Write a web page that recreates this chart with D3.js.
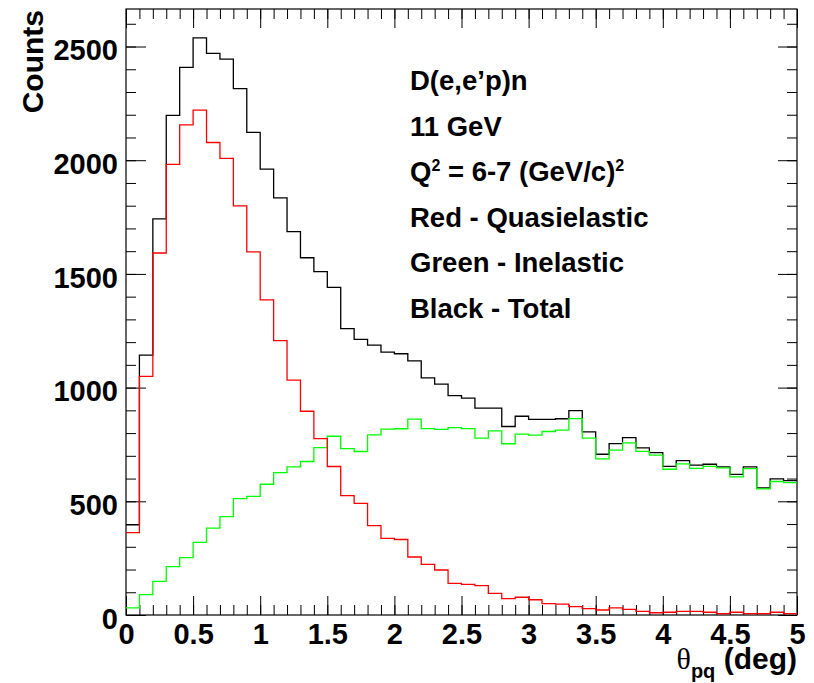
<!DOCTYPE html>
<html>
<head>
<meta charset="utf-8">
<script src="https://cdn.jsdelivr.net/npm/d3@7"></script>
<style>
  body { margin: 0; background: #fff; }
  svg { font-family: "Liberation Sans", Arial, sans-serif; font-weight: bold; }
</style>
</head>
<body>
<svg id="chart" width="814" height="683"></svg>
<script>
// theta_pq histograms, 50 bins of 0.1 deg
const binWidth = 0.1;
const xMajorTicks = [0, 0.5, 1, 1.5, 2, 2.5, 3, 3.5, 4, 4.5, 5];
const yMajorTicks = [0, 500, 1000, 1500, 2000, 2500];

const total = [397, 1143, 1742, 2197, 2408, 2538, 2470, 2445, 2315, 2122,
               1961, 1834, 1686, 1571, 1510, 1441, 1259, 1212, 1187, 1156,
               1149, 1118, 1043, 1015, 965, 954, 910, 910, 829, 874,
               860, 860, 863, 899, 805, 707, 754, 780, 735, 714,
               654, 679, 659, 663, 651, 618, 651, 559, 599, 591];
const quasielastic = [362, 1049, 1592, 1982, 2155, 2220, 2078, 2008, 1799, 1597,
                      1386, 1207, 1033, 896, 776, 653, 525, 491, 393, 337,
                      332, 255, 223, 198, 139, 135, 129, 95, 72, 78,
                      67, 50, 48, 37, 28, 22, 31, 25, 16, 10,
                      12, 16, 16, 12, 6, 12, 6, 6, 12, 6];
const inelastic = [31, 90, 148, 213, 252, 319, 382, 433, 512, 522,
                   575, 626, 651, 675, 736, 786, 732, 719, 792, 817,
                   819, 861, 820, 816, 824, 820, 778, 810, 753, 795,
                   791, 807, 813, 864, 778, 687, 725, 757, 720, 703,
                   641, 665, 645, 654, 647, 607, 644, 555, 587, 582];

const legendLines = ["D(e,e\u2019p)n", "11 GeV", "Q2", "Red - Quasielastic", "Green - Inelastic", "Black - Total"];

const margin = {top: 9, right: 17, bottom: 68, left: 126};
const fullWidth = 814, fullHeight = 683;
const width = fullWidth - margin.left - margin.right;
const height = fullHeight - margin.top - margin.bottom;

const svg = d3.select("#chart");
const g = svg.append("g").attr("transform", `translate(${margin.left},${margin.top})`);

const x = d3.scaleLinear().domain([0, 5]).range([0, width]);
const y = d3.scaleLinear().domain([0, 2665]).range([height, 0]);

const minorX = d3.range(0, 51).map(i => i * binWidth);
const minorY = d3.range(0, 27).map(i => i * 100);

function styleAxis(sel) {
    sel.select(".domain").remove();
    sel.selectAll("line").attr("stroke", "#000").attr("stroke-width", 1);
}

// bottom axis
g.append("g").attr("transform", `translate(0,${height})`)
    .call(d3.axisBottom(x).tickValues(minorX).tickSize(-10).tickFormat(""))
    .call(styleAxis);
g.append("g").attr("transform", `translate(0,${height})`)
    .call(d3.axisBottom(x).tickValues(xMajorTicks).tickSize(-19).tickPadding(8).tickFormat(d3.format("")))
    .call(styleAxis)
    .call(s => s.selectAll("text").attr("fill", "#000").style("font-size", "29px").style("font-weight", "bold"));
// top axis
g.append("g")
    .call(d3.axisTop(x).tickValues(minorX).tickSize(-10).tickFormat(""))
    .call(styleAxis);
g.append("g")
    .call(d3.axisTop(x).tickValues(xMajorTicks).tickSize(-19).tickFormat(""))
    .call(styleAxis);
// left axis
g.append("g")
    .call(d3.axisLeft(y).tickValues(minorY).tickSize(-10).tickFormat(""))
    .call(styleAxis);
g.append("g")
    .call(d3.axisLeft(y).tickValues(yMajorTicks).tickSize(-20).tickPadding(8).tickFormat(d3.format("")))
    .call(styleAxis)
    .call(s => s.selectAll("text").attr("fill", "#000").attr("dy", "0.46em").style("font-size", "29px").style("font-weight", "bold"));
// right axis
g.append("g").attr("transform", `translate(${width},0)`)
    .call(d3.axisRight(y).tickValues(minorY).tickSize(-10).tickFormat(""))
    .call(styleAxis);
g.append("g").attr("transform", `translate(${width},0)`)
    .call(d3.axisRight(y).tickValues(yMajorTicks).tickSize(-19).tickFormat(""))
    .call(styleAxis);

// frame
g.append("rect")
    .attr("width", width).attr("height", height)
    .attr("fill", "none").attr("stroke", "#000").attr("stroke-width", 1.2);

// histograms
function stepPoints(values) {
    const pts = values.map((v, i) => [i * binWidth, v]);
    pts.push([values.length * binWidth, values[values.length - 1]]);
    return pts;
}
const line = d3.line()
    .x(d => x(d[0]))
    .y(d => y(d[1]))
    .curve(d3.curveStepAfter);

const series = [
    {values: total, color: "#000000"},
    {values: inelastic, color: "#00ff00"},
    {values: quasielastic, color: "#ff0000"}
];
g.selectAll("path.hist")
    .data(series)
    .enter().append("path")
        .attr("class", "hist")
        .attr("fill", "none")
        .attr("stroke", d => d.color)
        .attr("stroke-width", 1.3)
        .attr("d", d => line(stepPoints(d.values)));

// legend text block
const legend = svg.append("g").style("font-size", "27.5px").attr("fill", "#000");
legendLines.forEach((t, i) => {
    const txt = legend.append("text")
        .attr("x", 410)
        .attr("y", 90 + i * 45.6);
    if (t === "Q2") {
        txt.append("tspan").text("Q");
        txt.append("tspan").attr("dy", -10).style("font-size", "16px").text("2");
        txt.append("tspan").attr("dy", 10).text(" = 6-7 (GeV/c)");
        txt.append("tspan").attr("dy", -10).style("font-size", "16px").text("2");
    } else {
        txt.text(t);
    }
});

// axis titles
svg.append("text")
    .attr("transform", "translate(43,10) rotate(-90)")
    .attr("text-anchor", "end")
    .style("font-size", "30px")
    .text("Counts");

const xTitle = svg.append("text")
    .attr("x", 797)
    .attr("y", 669)
    .attr("text-anchor", "end")
    .style("font-size", "30px");
xTitle.append("tspan")
    .style("font-family", "'Liberation Serif', 'DejaVu Serif', serif")
    .style("font-weight", "normal")
    .text("\u03b8");
xTitle.append("tspan").attr("dy", 9).style("font-size", "20px").text("pq");
xTitle.append("tspan").attr("dy", -9).text(" (deg)");
</script>
</body>
</html>
